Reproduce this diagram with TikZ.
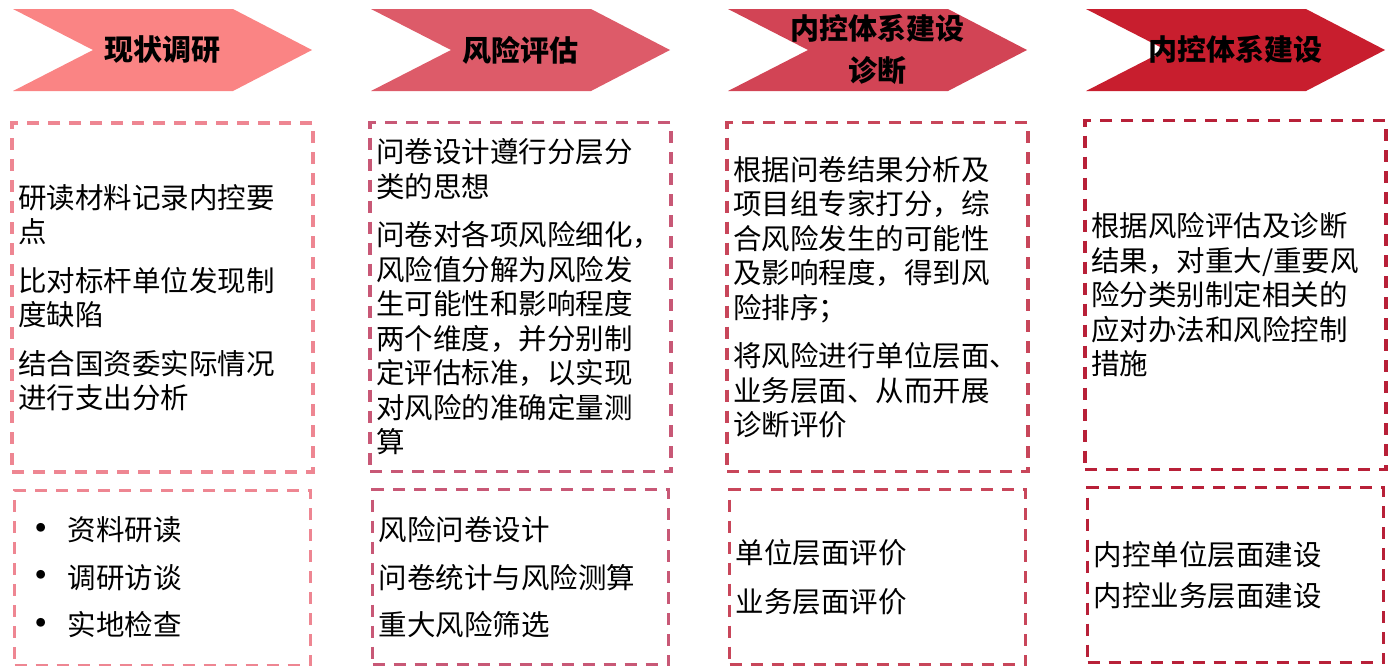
\documentclass[tikz,border=0pt]{standalone}
\usepackage{fontspec}
\setmainfont{Noto Sans CJK SC}
\usetikzlibrary{positioning}

\definecolor{stepA}{RGB}{250,132,132}
\definecolor{stepB}{RGB}{221,91,105}
\definecolor{stepC}{RGB}{210,68,85}
\definecolor{stepD}{RGB}{200,30,46}
\definecolor{lineA}{RGB}{238,134,146}
\definecolor{lineB}{RGB}{200,88,118}
\definecolor{lineC}{RGB}{200,70,90}
\definecolor{lineD}{RGB}{184,32,56}

\newcommand{\itemdot}{\makebox[47pt][l]{\raisebox{-2.5pt}{\scalebox{1.45}{•}}}}

\tikzset{
	headtext/.style={font=\fontsize{29}{42}\selectfont\bfseries, align=center, text=black},
	dashbox/.style={draw=#1, line width=3.2pt, dash pattern=on 12pt off 9pt,
		inner xsep=6pt, align=left, font=\fontsize{28.5}{34.5}\selectfont},
	topbox/.style={dashbox=#1, text width=289pt, minimum height=349pt},
	botbox/.style={dashbox=#1, text width=284pt, minimum height=175pt},
}

\begin{document}
\begin{tikzpicture}[x=1pt, y=-1pt]
	\useasboundingbox (0,0) rectangle (1388,665);

	% header arrows
	\fill[stepA] (13,9) -- (233,9) -- (312,50) -- (233,91) -- (13,91) -- (93,50) -- cycle;
	\fill[stepB] (371,9) -- (591,9) -- (670,50) -- (591,91) -- (371,91) -- (451,50) -- cycle;
	\fill[stepC] (728,9) -- (948,9) -- (1027,50) -- (948,91) -- (728,91) -- (808,50) -- cycle;
	\fill[stepD] (1086,9) -- (1306,9) -- (1385,50) -- (1306,91) -- (1086,91) -- (1166,50) -- cycle;

	\node[headtext] (head1) at (162,50) {现状调研};
	\node[headtext] (head2) at (520,50) {风险评估};
	\node[headtext] (head3) at (877,49) {内控体系建设\\诊断};
	\node[headtext] (head4) at (1235,49) {内控体系建设};

	% upper boxes
	\node[topbox=lineA] (top1) at (162.5,297.5) {研读材料记录内控要\\点\\[14pt]比对标杆单位发现制\\度缺陷\\[14pt]结合国资委实际情况\\进行支出分析};
	\node[topbox=lineB] (top2) at (520.5,297) {问卷设计遵行分层分\\类的思想\\[14pt]问卷对各项风险细化，\\风险值分解为风险发\\生可能性和影响程度\\两个维度，并分别制\\定评估标准，以实现\\对风险的准确定量测\\算};
	\node[topbox=lineC] (top3) at (877.5,297) {根据问卷结果分析及\\项目组专家打分，综\\合风险发生的可能性\\及影响程度，得到风\\险排序；\\[14pt]将风险进行单位层面、\\业务层面、从而开展\\诊断评价};
	\node[topbox=lineD] (top4) at (1235.5,295) {根据风险评估及诊断\\结果，对重大/重要风\\险分类别制定相关的\\应对办法和风险控制\\措施};

	% lower boxes
	\node[botbox=lineA, below=15pt of top1] (bot1) {\itemdot 资料研读\\[13pt]\itemdot 调研访谈\\[13pt]\itemdot 实地检查};
	\node[botbox=lineB, below=15pt of top2] (bot2) {风险问卷设计\\[13pt]问卷统计与风险测算\\[13pt]重大风险筛选};
	\node[botbox=lineC, below=15pt of top3] (bot3) {单位层面评价\\[14pt]业务层面评价};
	\node[botbox=lineD, below=15pt of top4] (bot4) {内控单位层面建设\\[6pt]内控业务层面建设};
\end{tikzpicture}
\end{document}
